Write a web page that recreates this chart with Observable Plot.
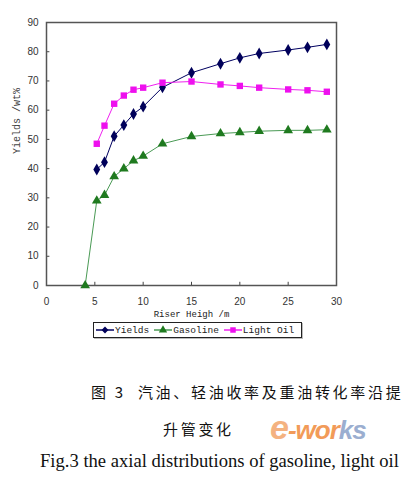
<!DOCTYPE html>
<html>
<head>
<meta charset="utf-8">
<script src="https://cdn.jsdelivr.net/npm/d3@7"></script>
<script src="https://cdn.jsdelivr.net/npm/@observablehq/plot@0.6"></script>
<style>
  body { margin: 0; background: #fff; }
  #wrap { position: relative; width: 412px; height: 483px; overflow: hidden; background: #fff; }
  #chart { position: absolute; left: 0; top: 0; }
  #legend { position: absolute; left: 93px; top: 322px; width: 206px; height: 14px; border: 1px solid #222;
    box-shadow: 1px 1px 0 #bbb; font: 9.5px "Liberation Mono", "DejaVu Sans Mono", monospace; color: #222;
    display: flex; align-items: center; padding-left: 1px; box-sizing: content-box; white-space: nowrap; }
  #legend .it { display: flex; align-items: center; margin-right: 4px; }
  .cap { position: absolute; white-space: nowrap; color: #111; }
</style>
</head>
<body>
<div id="wrap">
  <div id="chart"></div>
  <div id="legend"></div>
  <div class="cap" style="left:91px; top:381px; font:15px 'Noto Sans CJK SC'; letter-spacing:2.7px;">图 3&nbsp; 汽油、轻油收率及重油转化率沿提</div>
  <div class="cap" style="left:163px; top:418px; font:15px 'Noto Sans CJK SC'; letter-spacing:2.7px;">升管变化</div>
  <div class="cap" style="left:270px; top:408px; font:italic bold 34px 'Liberation Sans'; color:#f3a56a; opacity:0.85; letter-spacing:-1px;">e<span style="font-size:26px;color:#f08a3c">-wor</span><span style="font-size:26px;color:#8aa0c8">ks</span></div>
  <div class="cap" style="left:40px; top:450px; font:18.6px 'Liberation Serif';">Fig.3 the axial distributions of gasoline, light oil</div>
</div>
<script>
const riserHeight = [5.2, 6, 7, 8, 9, 10, 12, 15, 18, 20, 22, 25, 27, 29];
const yieldsVals = [39.7, 42.2, 51.1, 54.9, 58.7, 61.2, 67.8, 72.8, 75.9, 77.9, 79.4, 80.6, 81.5, 82.5];
const lightOilVals = [48.5, 54.7, 62.2, 65.0, 67.0, 67.7, 69.4, 69.8, 68.8, 68.3, 67.7, 67.1, 66.8, 66.3];
const gasolineHeight = [4, 5.2, 6, 7, 8, 9, 10, 12, 15, 18, 20, 22, 25, 27, 29];
const gasolineVals = [0, 29.0, 30.9, 37.3, 40.0, 42.7, 44.3, 48.5, 51.0, 52.0, 52.4, 52.8, 53.1, 53.1, 53.3];
const xTicks = [0, 5, 10, 15, 20, 25, 30];
const yTicks = [0, 10, 20, 30, 40, 50, 60, 70, 80, 90];
const seriesNames = ["Yields", "Gasoline", "Light Oil"];
const seriesLine = {"Yields": "#000060", "Gasoline": "#4a9a55", "Light Oil": "#f020f0"};
const seriesFill = {"Yields": "#00005a", "Gasoline": "#1f7a1f", "Light Oil": "#ee10ee"};
const seriesSymbol = {"Yields": "diamond", "Gasoline": "triangle", "Light Oil": "square"};

const data = [];
riserHeight.forEach((h, i) => data.push({s: "Yields", x: h, y: yieldsVals[i]}));
gasolineHeight.forEach((h, i) => data.push({s: "Gasoline", x: h, y: gasolineVals[i]}));
riserHeight.forEach((h, i) => data.push({s: "Light Oil", x: h, y: lightOilVals[i]}));

const chart = Plot.plot({
  width: 412,
  height: 320,
  marginLeft: 46,
  marginRight: 76,
  marginTop: 22,
  marginBottom: 35,
  style: {fontFamily: "'Liberation Sans', Arial, sans-serif", fontSize: "10px", color: "#333", background: "#fff"},
  x: {domain: [0, 30]},
  y: {domain: [0, 90]},
  marks: [
    Plot.axisX({ticks: xTicks, tickSize: 0, tickPadding: 12, label: null, fontSize: 10}),
    Plot.axisY({ticks: yTicks, tickSize: 0, tickPadding: 8, label: null, fontSize: 10}),
    Plot.ruleX(xTicks.slice(1, -1), {x: d => d, y1: 0, y2: 1.1, stroke: "#444"}),
    Plot.ruleY(yTicks.slice(1, -1), {y: d => d, x1: 0, x2: 0.35, stroke: "#444"}),
    Plot.frame({stroke: "#555", strokeWidth: 1.5}),
    Plot.line(data, {x: "x", y: "y", z: "s", stroke: d => seriesLine[d.s], strokeWidth: 1}),
    Plot.dot(data, {x: "x", y: "y", symbol: d => seriesSymbol[d.s], fill: d => seriesFill[d.s], r: 3.6}),
    Plot.text(["Riser Heigh /m"], {frameAnchor: "bottom", dy: 31, text: d => d, fontFamily: "'Liberation Mono', monospace", fontSize: 9, fill: "#222"}),
    Plot.text(["Yields /wt%"], {frameAnchor: "left", dx: -30, rotate: -90, text: d => d, fontFamily: "'Liberation Mono', monospace", fontSize: 10, fill: "#444"})
  ]
});
document.getElementById("chart").appendChild(chart);

// legend
const leg = document.getElementById("legend");
seriesNames.forEach(name => {
  const it = document.createElement("div");
  it.className = "it";
  const svg = d3.create("svg").attr("width", 20).attr("height", 10);
  svg.append("line").attr("x1", 1).attr("x2", 19).attr("y1", 5).attr("y2", 5)
    .attr("stroke", seriesLine[name]).attr("stroke-width", 1.5);
  const sym = {diamond: d3.symbolDiamond2, triangle: d3.symbolTriangle, square: d3.symbolSquare}[seriesSymbol[name]];
  svg.append("path").attr("d", d3.symbol(sym, 30)()).attr("transform", "translate(10,5)").attr("fill", seriesFill[name]);
  it.appendChild(svg.node());
  const t = document.createElement("span");
  t.textContent = name;
  it.appendChild(t);
  leg.appendChild(it);
});
</script>
</body>
</html>
